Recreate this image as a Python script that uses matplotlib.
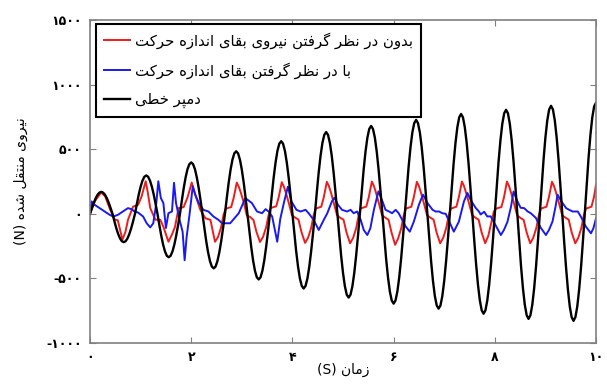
import numpy as np
import matplotlib
matplotlib.use('Agg')
import matplotlib.pyplot as plt

# Persian letters -> (isolated, final, initial, medial) presentation forms
FORMS = {
    'ا': ('\uFE8D', '\uFE8E', None, None),
    'ب': ('\uFE8F', '\uFE90', '\uFE91', '\uFE92'),
    'پ': ('\uFB56', '\uFB57', '\uFB58', '\uFB59'),
    'ت': ('\uFE95', '\uFE96', '\uFE97', '\uFE98'),
    'ح': ('\uFEA1', '\uFEA2', '\uFEA3', '\uFEA4'),
    'خ': ('\uFEA5', '\uFEA6', '\uFEA7', '\uFEA8'),
    'د': ('\uFEA9', '\uFEAA', None, None),
    'ر': ('\uFEAD', '\uFEAE', None, None),
    'ز': ('\uFEAF', '\uFEB0', None, None),
    'ش': ('\uFEB5', '\uFEB6', '\uFEB7', '\uFEB8'),
    'ط': ('\uFEC1', '\uFEC2', '\uFEC3', '\uFEC4'),
    'ظ': ('\uFEC5', '\uFEC6', '\uFEC7', '\uFEC8'),
    'ف': ('\uFED1', '\uFED2', '\uFED3', '\uFED4'),
    'ق': ('\uFED5', '\uFED6', '\uFED7', '\uFED8'),
    'ک': ('\uFB8E', '\uFB8F', '\uFB90', '\uFB91'),
    'گ': ('\uFB92', '\uFB93', '\uFB94', '\uFB95'),
    'ل': ('\uFEDD', '\uFEDE', '\uFEDF', '\uFEE0'),
    'م': ('\uFEE1', '\uFEE2', '\uFEE3', '\uFEE4'),
    'ن': ('\uFEE5', '\uFEE6', '\uFEE7', '\uFEE8'),
    'ه': ('\uFEE9', '\uFEEA', '\uFEEB', '\uFEEC'),
    'و': ('\uFEED', '\uFEEE', None, None),
    'ی': ('\uFBFC', '\uFBFD', '\uFBFE', '\uFBFF'),
}


def rtl(text):
    """Shape Persian text and put it in visual (left-to-right) order."""
    out = []
    for i, ch in enumerate(text):
        if ch not in FORMS:
            out.append(ch)
            continue
        iso, fin, ini, med = FORMS[ch]
        prev = text[i - 1] if i > 0 else ''
        nxt = text[i + 1] if i + 1 < len(text) else ''
        join_prev = prev in FORMS and FORMS[prev][2] is not None
        join_next = ini is not None and nxt in FORMS
        if join_prev and join_next:
            out.append(med)
        elif join_prev:
            out.append(fin)
        elif join_next:
            out.append(ini)
        else:
            out.append(iso)
    return ''.join(out)[::-1]


# ---- data ----
label_red = 'بدون در نظر گرفتن نیروی بقای اندازه حرکت'
label_blue = 'با در نظر گرفتن بقای اندازه حرکت'
label_black = 'دمپر خطی'
xlabel_fa = 'زمان'
ylabel_fa = 'نیروی منتقل شده'

x_ticks = [0, 2, 4, 6, 8, 10]
x_tick_labels = ['۰', '۲', '۴', '۶', '۸', '۱۰']
y_ticks = [-1000, -500, 0, 500, 1000, 1500]
y_tick_labels = ['-۱۰۰۰', '-۵۰۰', '۰', '۵۰۰', '۱۰۰۰', '۱۵۰۰']

# linear damper, sampled uniformly over 0..10 s
force_black = [
    0, 44, 85, 120, 147, 164, 170, 164, 147, 120, 85, 44,
    0, -57, -110, -155, -190, -212, -219, -212, -190, -155, -110, -57,
    0, 77, 149, 210, 257, 287, 297, 287, 257, 210, 149, 77,
    0, -87, -168, -238, -291, -325, -336, -325, -291, -238, -168, -87,
    0, 103, 199, 281, 345, 384, 398, 384, 345, 281, 199, 103,
    0, -109, -211, -298, -365, -408, -422, -408, -365, -298, -211, -109,
    0, 125, 242, 342, 419, 468, 484, 468, 419, 342, 242, 125,
    0, -131, -254, -359, -440, -491, -508, -491, -440, -359, -254, -131,
    0, 146, 281, 397, 487, 543, 562, 543, 487, 397, 281, 146,
    0, -150, -289, -409, -501, -558, -578, -558, -501, -409, -289, -150,
    0, 164, 317, 448, 548, 611, 633, 611, 548, 448, 317, 164,
    0, -168, -324, -458, -561, -626, -648, -626, -561, -458, -324, -168,
    0, 176, 340, 481, 589, 657, 680, 657, 589, 481, 340, 176,
    0, -180, -348, -491, -602, -671, -695, -671, -602, -491, -348, -180,
    0, 188, 364, 514, 630, 702, 727, 702, 630, 514, 364, 188,
    0, -190, -367, -519, -636, -709, -734, -709, -636, -519, -367, -190,
    0, 200, 387, 547, 669, 747, 773, 747, 669, 547, 387, 200,
    0, -200, -387, -547, -669, -747, -773, -747, -669, -547, -387, -200,
    0, 208, 403, 569, 697, 778, 805, 778, 697, 569, 403, 208,
    0, -210, -407, -575, -704, -785, -813, -785, -704, -575, -407, -210,
    0, 216, 418, 591, 724, 808, 836, 808, 724, 591, 418, 216,
    0, -214, -414, -585, -717, -800, -828, -800, -717, -585, -414, -214,
    0, 223, 430, 608, 745, 831, 860,
]
time_black = np.linspace(0, 10, len(force_black))

time_red = [
    0.00, 0.10, 0.22, 0.30, 0.40, 0.49, 0.55, 0.64, 0.70, 0.75, 0.85, 0.95,
    1.02, 1.10, 1.14, 1.19, 1.29, 1.39, 1.45, 1.55, 1.62, 1.68, 1.75, 1.85,
    1.93, 2.01, 2.08, 2.18, 2.28, 2.38,
    2.47, 2.53, 2.59, 2.64, 2.68, 2.74, 2.79, 2.84, 2.90, 2.94, 2.98, 3.04, 3.10, 3.16, 3.23, 3.29,
    3.36, 3.42, 3.48, 3.53, 3.57, 3.63, 3.68, 3.73, 3.79, 3.83, 3.87, 3.93, 3.99, 4.05, 4.12, 4.18,
    4.25, 4.31, 4.37, 4.42, 4.46, 4.52, 4.57, 4.62, 4.68, 4.72, 4.76, 4.82, 4.88, 4.94, 5.01, 5.07,
    5.14, 5.20, 5.26, 5.31, 5.35, 5.41, 5.46, 5.51, 5.57, 5.61, 5.65, 5.71, 5.77, 5.83, 5.90, 5.96,
    6.03, 6.09, 6.15, 6.20, 6.24, 6.30, 6.35, 6.40, 6.46, 6.50, 6.54, 6.60, 6.66, 6.72, 6.79, 6.85,
    6.92, 6.98, 7.04, 7.09, 7.13, 7.19, 7.24, 7.29, 7.35, 7.39, 7.43, 7.49, 7.55, 7.61, 7.68, 7.74,
    7.81, 7.87, 7.93, 7.98, 8.02, 8.08, 8.13, 8.18, 8.24, 8.28, 8.32, 8.38, 8.44, 8.50, 8.57, 8.63,
    8.70, 8.76, 8.82, 8.87, 8.91, 8.97, 9.02, 9.07, 9.13, 9.17, 9.21, 9.27, 9.33, 9.39, 9.46, 9.52,
    9.59, 9.65, 9.71, 9.76, 9.80, 9.86, 9.91, 9.96, 10.00,
]
force_red = [
    0, 100, 165, 135, 30, -45, -50, -200, -140, -47, 55, 70,
    135, 252, 170, 45, -45, -47, -100, -216, -160, -100, 44, 52,
    130, 242, 148, 31, -34, -47,
    -216, -180, -105, -5, 38, 47, 52, 125, 242, 210, 165, 86, -15, -23, -47, -140,
    -218, -178, -105, -8, 45, 52, 58, 130, 245, 212, 165, 82, -10, -28, -45, -142,
    -225, -185, -110, -10, 40, 48, 55, 128, 248, 215, 168, 80, -8, -30, -45, -145,
    -228, -186, -112, -10, 42, 50, 56, 130, 250, 216, 166, 80, -10, -28, -46, -146,
    -240, -190, -112, -12, 40, 48, 55, 130, 248, 215, 165, 80, -10, -28, -45, -145,
    -228, -186, -110, -10, 40, 48, 55, 130, 250, 216, 166, 82, -8, -28, -45, -145,
    -227, -172, -70, 16, 39, 47, 52, 125, 250, 216, 165, 80, -10, -30, -47, -145,
    -228, -185, -110, -10, 40, 48, 55, 130, 248, 215, 165, 80, -10, -28, -45, -145,
    -228, -185, -110, -10, 40, 48, 55, 130, 227,
]

time_blue = [
    0.00, 0.03, 0.09, 0.19, 0.29, 0.39, 0.46, 0.55, 0.65, 0.75, 0.82, 0.88,
    0.95, 1.05, 1.12, 1.19, 1.25, 1.31, 1.35, 1.40, 1.45, 1.50, 1.55, 1.62,
    1.66, 1.70, 1.77, 1.83, 1.87, 1.91, 1.97, 2.03, 2.08, 2.15, 2.24, 2.34,
    2.44, 2.54, 2.61, 2.77, 2.94, 3.07, 3.20, 3.30, 3.40, 3.47, 3.53, 3.60,
    3.70, 3.76, 3.83, 3.91, 3.98, 4.08, 4.16, 4.26, 4.32, 4.42, 4.52, 4.62,
    4.69, 4.78, 4.83, 4.90, 4.98, 5.08, 5.15, 5.21, 5.28, 5.35, 5.41, 5.48,
    5.54, 5.61, 5.70, 5.78, 5.84, 5.91, 5.97, 6.04, 6.10, 6.17, 6.24, 6.32,
    6.40, 6.50, 6.58, 6.67, 6.77, 6.83, 6.90, 6.96, 7.03, 7.10, 7.19, 7.29,
    7.39, 7.46, 7.52, 7.62, 7.69, 7.72, 7.79, 7.85, 7.92, 7.99, 8.05, 8.12,
    8.18, 8.25, 8.32, 8.37, 8.45, 8.51, 8.58, 8.65, 8.71, 8.81, 8.91, 9.01,
    9.07, 9.14, 9.20, 9.24, 9.32, 9.41, 9.47, 9.54, 9.64, 9.70, 9.80, 9.90,
    9.95, 10.00,
]
force_blue = [
    0, 96, 70, 44, 18, -8, -21, -8, 18, 44, 36, 18,
    10, -21, -73, -105, -73, 83, 252, 122, 83, -110, 5, 18,
    240, 83, -47, -138, -359, -177, 5, 213, 148, 83, 31, 18,
    -21, -47, -73, -73, 5, 122, 83, 18, 5, 36, 18, -21,
    -216, -40, 83, 210, 96, 31, 18, 31, 5, -47, -125, -47,
    5, 96, 125, 70, 31, 18, 31, 5, 18, -47, -125, -164,
    -112, 31, 174, 96, 31, 18, 5, 31, 5, -47, -99, -138,
    -60, 70, 148, 83, 31, 18, 18, 5, 0, -60, -138, -60,
    96, 161, 109, 47, 16, -5, 16, -20, -20, -70, -112, -164,
    -125, -62, 55, 172, 94, 47, 44, 18, 5, -31, -109, -164,
    -125, -60, 55, 148, 94, 44, 31, 18, 18, -21, -99, -151,
    -110, -34,
]

FONT = 'DejaVu Sans'

fig = plt.figure(figsize=(6.07, 3.85), dpi=100)
ax = fig.add_axes([0.1483, 0.109, 0.8336, 0.839])

ax.plot(time_red, force_red, color='#ee1c1c', lw=1.4, label=rtl(label_red))
ax.plot(time_blue, force_blue, color='#1a1aee', lw=1.4, label=rtl(label_blue))
ax.plot(time_black, force_black, color='black', lw=1.7, label=rtl(label_black))

ax.set_xlim(0, 10)
ax.set_ylim(-1000, 1500)
ax.set_xticks(x_ticks)
ax.set_xticklabels(x_tick_labels, family=FONT, fontsize=9, fontweight='bold')
ax.set_yticks(y_ticks)
ax.set_yticklabels(y_tick_labels, family=FONT, fontsize=9, fontweight='bold')
ax.tick_params(direction='in', top=True, right=True, length=4, color='#808080', pad=6)
for sp in ax.spines.values():
    sp.set_color('#808080')
    sp.set_linewidth(1.2)

ax.set_xlabel('(S) ' + rtl(xlabel_fa), family=FONT, fontsize=10, labelpad=-1)
ax.set_ylabel('(N) ' + rtl(ylabel_fa), family=FONT, fontsize=10, labelpad=13)

leg = ax.legend(loc='upper left', bbox_to_anchor=(0.012, 0.988), prop={'family': FONT, 'size': 10.7},
                fancybox=False, framealpha=1, edgecolor='black', handlelength=1.75,
                handletextpad=0.3, labelspacing=0.9, borderpad=0.55, borderaxespad=0)
leg.get_frame().set_linewidth(1.5)

fig.savefig('out.png', dpi=100)
